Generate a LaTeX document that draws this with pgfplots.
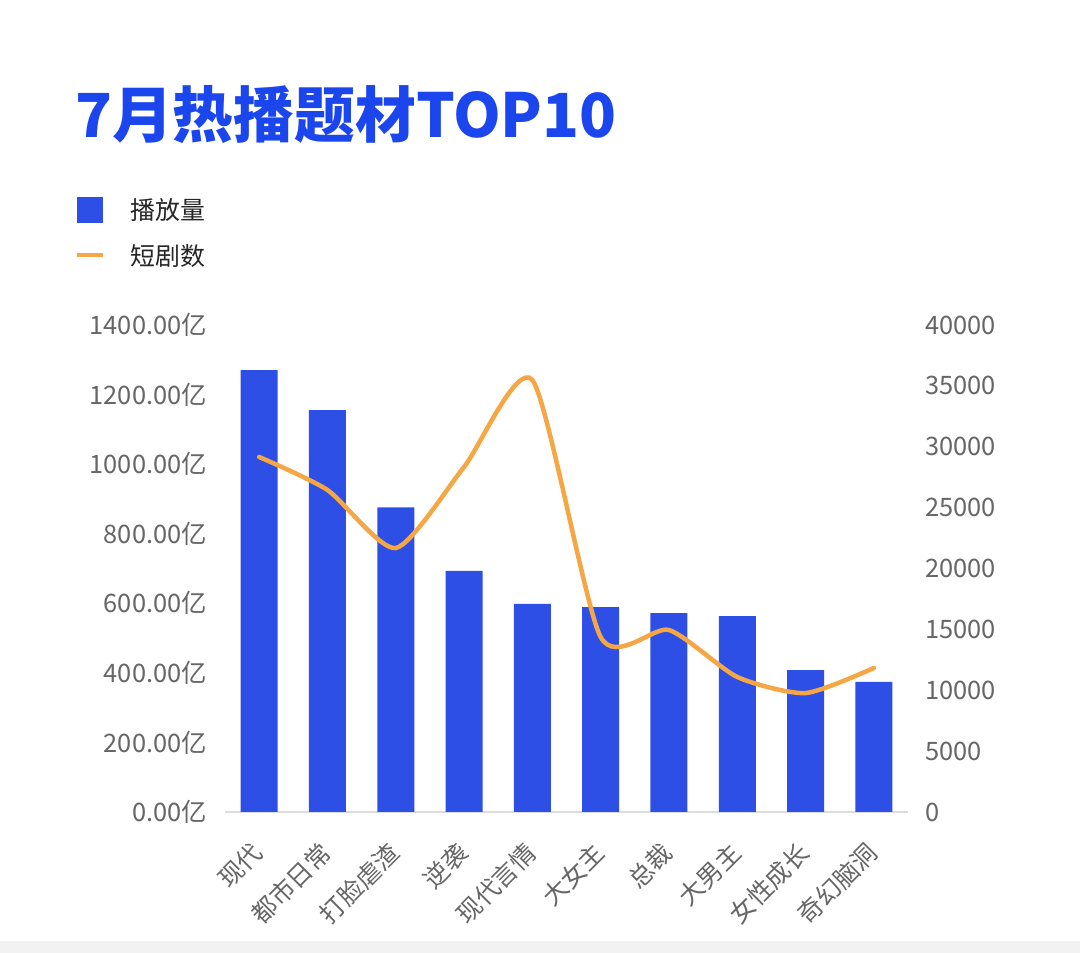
\documentclass[border=0pt]{standalone}
\usepackage{fontspec}
\setmainfont{Noto Sans CJK SC}
\usepackage{pgfplots}
\pgfplotsset{compat=1.18}
\definecolor{barblue}{HTML}{2D4FE6}
\definecolor{titleblue}{HTML}{1B46EE}
\definecolor{lineorange}{HTML}{F5A645}
\definecolor{ticgrey}{HTML}{666666}
\definecolor{axgrey}{HTML}{DDDDDD}
\begin{document}
\begin{tikzpicture}
\path[use as bounding box, fill=white] (0bp,0bp) rectangle (1080bp,953bp);
\fill[black!5] (0bp,0bp) rectangle (1080bp,12bp);
\node[anchor=west, font=\fontsize{61}{68}\selectfont\bfseries, text=titleblue, inner sep=0pt] at (75bp,838bp) {7月热播题材TOP10};
\begin{axis}[
  at={(225bp,141bp)}, anchor=south west, scale only axis,
  width=683bp, height=487bp,
  xmin=-0.5, xmax=9.5, ymin=0, ymax=1400,
  ybar, bar width=37bp,
  axis x line*=bottom, axis y line*=left,
  y axis line style={draw=none},
  x axis line style={draw=axgrey, line width=1.2bp, -},
  major tick length=0pt, tick style={draw=none},
  xtick={0,...,9},
  xticklabels={现代,都市日常,打脸虐渣,逆袭,现代言情,大女主,总裁,大男主,女性成长,奇幻脑洞},
  xticklabel style={xshift=-1bp, yshift=-36bp, rotate=45, anchor=east, inner sep=0pt, font=\fontsize{25}{28}\selectfont, text=ticgrey},
  ytick={0,200,...,1400},
  yticklabels={0.00亿,200.00亿,400.00亿,600.00亿,800.00亿,1000.00亿,1200.00亿,1400.00亿},
  yticklabel style={anchor=east, inner sep=0pt, xshift=-18bp, font=\fontsize{25.5}{28}\selectfont, text=ticgrey},
  legend style={at={(-0.224,1.267)}, anchor=north west, draw=none, fill=none,
    font=\fontsize{25}{28}\selectfont, text=black!85, row sep=21bp, column sep=25bp,
    nodes={inner sep=0pt}},
  legend cell align=left,
]
\addplot[fill=barblue, draw=none,
  legend image code/.code={\fill[barblue] (0bp,-13bp) rectangle (26bp,13bp);}]
  coordinates {(0,1270) (1,1155) (2,876) (3,693) (4,598) (5,589) (6,572) (7,563) (8,408) (9,374)};
\addlegendentry{播放量}
\addlegendimage{legend image code/.code={\draw[lineorange, line width=4bp] (0bp,0bp) -- (26bp,0bp);}}
\addlegendentry{短剧数}
\end{axis}
\begin{axis}[
  at={(225bp,141bp)}, anchor=south west, scale only axis,
  width=683bp, height=487bp,
  xmin=-0.5, xmax=9.5, ymin=0, ymax=40000,
  axis x line=none, axis y line*=right,
  y axis line style={draw=none},
  major tick length=0pt, tick style={draw=none},
  scaled y ticks=false,
  ytick={0,5000,...,40000},
  yticklabels={0,5000,10000,15000,20000,25000,30000,35000,40000},
  yticklabel style={anchor=west, inner sep=0pt, xshift=17bp, font=\fontsize{25.5}{28}\selectfont, text=ticgrey},
]
\addplot[lineorange, line width=4.5bp, smooth, tension=0.4, line cap=round]
  coordinates {(0,29160) (1,26450) (2,21680) (3,28340) (4,35480) (5,14370) (6,14950) (7,11090) (8,9770) (9,11830)};
\end{axis}
\end{tikzpicture}
\end{document}
